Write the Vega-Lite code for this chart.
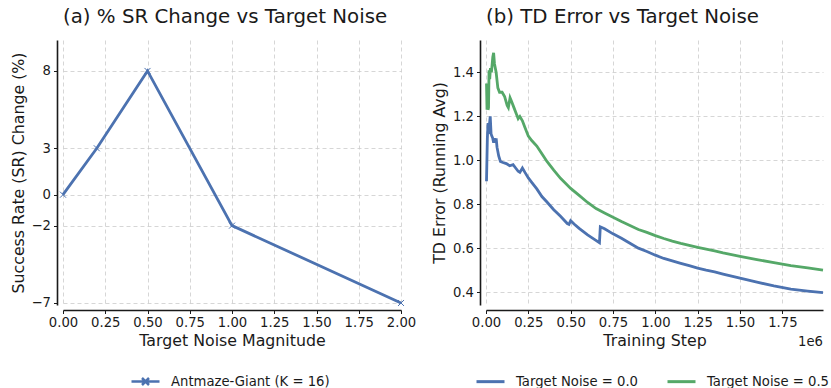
{
  "$schema": "https://vega.github.io/schema/vega-lite/v6.json",
  "background": "white",
  "padding": {"left": 10, "top": 7, "right": 0, "bottom": 0},
  "bounds": "flush",
  "spacing": 85,
  "resolve": {"scale": {"color": "independent"}, "legend": {"color": "independent"}},
  "config": {
    "font": "DejaVu Sans",
    "view": {"stroke": null},
    "axis": {
      "labelFont": "DejaVu Sans", "labelFontSize": 13.2, "labelColor": "#1a1a1a",
      "titleFont": "DejaVu Sans", "titleFontSize": 15.8, "titleFontWeight": "normal", "titleColor": "#1a1a1a",
      "domainColor": "#1a1a1a", "domainWidth": 1.6,
      "tickColor": "#1a1a1a", "tickSize": 3.5, "tickWidth": 1,
      "gridColor": "#cccccc", "gridDash": [4, 3], "gridWidth": 0.8,
      "labelPadding": 3, "titlePadding": 5, "labelFlush": false, "labelOverlap": false
    },
    "title": {"font": "DejaVu Sans", "fontSize": 19.8, "fontWeight": "normal", "color": "#1a1a1a", "anchor": "start", "frame": "group", "offset": 13},
    "legend": {"labelFont": "DejaVu Sans", "labelFontSize": 13.2, "labelColor": "#1a1a1a"}
  },
  "hconcat": [
    {
      "width": 338, "height": 265,
      "title": "(a) % SR Change vs Target Noise",
      "data": {"values": [
        {"noise": 0.0, "sr_change": 0, "series": "Antmaze-Giant (K = 16)"},
        {"noise": 0.2, "sr_change": 3, "series": "Antmaze-Giant (K = 16)"},
        {"noise": 0.5, "sr_change": 8, "series": "Antmaze-Giant (K = 16)"},
        {"noise": 1.0, "sr_change": -2, "series": "Antmaze-Giant (K = 16)"},
        {"noise": 2.0, "sr_change": -7, "series": "Antmaze-Giant (K = 16)"}
      ]},
      "layer": [
        {
          "mark": {"type": "line", "strokeWidth": 2.8},
          "encoding": {
            "x": {"field": "noise", "type": "quantitative", "scale": {"domain": [0, 2], "nice": false, "zero": false},
                  "axis": {"title": "Target Noise Magnitude", "values": [0, 0.25, 0.5, 0.75, 1, 1.25, 1.5, 1.75, 2], "format": ".2f", "offset": 5}},
            "y": {"field": "sr_change", "type": "quantitative", "scale": {"domain": [-7.13, 10], "nice": false, "zero": false},
                  "axis": {"title": "Success Rate (SR) Change (%)", "values": [-7, -2, 0, 3, 8], "format": "d", "offset": 6}},
            "color": {"field": "series", "type": "nominal", "scale": {"range": ["#4C72B0"]},
                      "legend": {"title": null, "orient": "none", "legendX": 67, "legendY": 326,
                                 "symbolType": "M-1,0L1,0M-0.25,-0.25L0.25,0.25M-0.25,0.25L0.25,-0.25",
                                 "symbolSize": 784, "symbolStrokeWidth": 2.5, "labelOffset": 10}}
          }
        },
        {
          "mark": {"type": "point", "shape": "M-1,-1L1,1M-1,1L1,-1", "filled": false, "size": 36, "strokeWidth": 1, "color": "#4C72B0", "opacity": 1},
          "encoding": {
            "x": {"field": "noise", "type": "quantitative", "title": "Target Noise Magnitude"},
            "y": {"field": "sr_change", "type": "quantitative", "title": "Success Rate (SR) Change (%)"}
          }
        }
      ]
    },
    {
      "width": 337, "height": 265,
      "title": "(b) TD Error vs Target Noise",
      "data": {"values": [
        {"step": 3000, "td_error": 0.905, "series": "Target Noise = 0.0"},
        {"step": 8000, "td_error": 1.10, "series": "Target Noise = 0.0"},
        {"step": 12000, "td_error": 1.17, "series": "Target Noise = 0.0"},
        {"step": 16000, "td_error": 1.12, "series": "Target Noise = 0.0"},
        {"step": 20000, "td_error": 1.16, "series": "Target Noise = 0.0"},
        {"step": 25000, "td_error": 1.20, "series": "Target Noise = 0.0"},
        {"step": 30000, "td_error": 1.12, "series": "Target Noise = 0.0"},
        {"step": 35000, "td_error": 1.11, "series": "Target Noise = 0.0"},
        {"step": 40000, "td_error": 1.10, "series": "Target Noise = 0.0"},
        {"step": 45000, "td_error": 1.08, "series": "Target Noise = 0.0"},
        {"step": 50000, "td_error": 1.10, "series": "Target Noise = 0.0"},
        {"step": 55000, "td_error": 1.08, "series": "Target Noise = 0.0"},
        {"step": 60000, "td_error": 1.10, "series": "Target Noise = 0.0"},
        {"step": 65000, "td_error": 1.06, "series": "Target Noise = 0.0"},
        {"step": 75000, "td_error": 1.02, "series": "Target Noise = 0.0"},
        {"step": 85000, "td_error": 0.995, "series": "Target Noise = 0.0"},
        {"step": 100000, "td_error": 0.99, "series": "Target Noise = 0.0"},
        {"step": 120000, "td_error": 0.985, "series": "Target Noise = 0.0"},
        {"step": 140000, "td_error": 0.975, "series": "Target Noise = 0.0"},
        {"step": 160000, "td_error": 0.98, "series": "Target Noise = 0.0"},
        {"step": 175000, "td_error": 0.965, "series": "Target Noise = 0.0"},
        {"step": 190000, "td_error": 0.95, "series": "Target Noise = 0.0"},
        {"step": 200000, "td_error": 0.945, "series": "Target Noise = 0.0"},
        {"step": 215000, "td_error": 0.965, "series": "Target Noise = 0.0"},
        {"step": 230000, "td_error": 0.945, "series": "Target Noise = 0.0"},
        {"step": 250000, "td_error": 0.92, "series": "Target Noise = 0.0"},
        {"step": 270000, "td_error": 0.90, "series": "Target Noise = 0.0"},
        {"step": 300000, "td_error": 0.87, "series": "Target Noise = 0.0"},
        {"step": 330000, "td_error": 0.835, "series": "Target Noise = 0.0"},
        {"step": 360000, "td_error": 0.81, "series": "Target Noise = 0.0"},
        {"step": 400000, "td_error": 0.775, "series": "Target Noise = 0.0"},
        {"step": 440000, "td_error": 0.745, "series": "Target Noise = 0.0"},
        {"step": 480000, "td_error": 0.712, "series": "Target Noise = 0.0"},
        {"step": 490000, "td_error": 0.708, "series": "Target Noise = 0.0"},
        {"step": 500000, "td_error": 0.725, "series": "Target Noise = 0.0"},
        {"step": 520000, "td_error": 0.71, "series": "Target Noise = 0.0"},
        {"step": 550000, "td_error": 0.69, "series": "Target Noise = 0.0"},
        {"step": 600000, "td_error": 0.66, "series": "Target Noise = 0.0"},
        {"step": 640000, "td_error": 0.64, "series": "Target Noise = 0.0"},
        {"step": 670000, "td_error": 0.625, "series": "Target Noise = 0.0"},
        {"step": 675000, "td_error": 0.697, "series": "Target Noise = 0.0"},
        {"step": 700000, "td_error": 0.688, "series": "Target Noise = 0.0"},
        {"step": 750000, "td_error": 0.665, "series": "Target Noise = 0.0"},
        {"step": 800000, "td_error": 0.645, "series": "Target Noise = 0.0"},
        {"step": 850000, "td_error": 0.622, "series": "Target Noise = 0.0"},
        {"step": 900000, "td_error": 0.60, "series": "Target Noise = 0.0"},
        {"step": 950000, "td_error": 0.585, "series": "Target Noise = 0.0"},
        {"step": 1000000, "td_error": 0.568, "series": "Target Noise = 0.0"},
        {"step": 1050000, "td_error": 0.553, "series": "Target Noise = 0.0"},
        {"step": 1100000, "td_error": 0.542, "series": "Target Noise = 0.0"},
        {"step": 1150000, "td_error": 0.531, "series": "Target Noise = 0.0"},
        {"step": 1200000, "td_error": 0.52, "series": "Target Noise = 0.0"},
        {"step": 1250000, "td_error": 0.509, "series": "Target Noise = 0.0"},
        {"step": 1300000, "td_error": 0.50, "series": "Target Noise = 0.0"},
        {"step": 1350000, "td_error": 0.492, "series": "Target Noise = 0.0"},
        {"step": 1400000, "td_error": 0.482, "series": "Target Noise = 0.0"},
        {"step": 1500000, "td_error": 0.463, "series": "Target Noise = 0.0"},
        {"step": 1600000, "td_error": 0.445, "series": "Target Noise = 0.0"},
        {"step": 1700000, "td_error": 0.428, "series": "Target Noise = 0.0"},
        {"step": 1800000, "td_error": 0.413, "series": "Target Noise = 0.0"},
        {"step": 1900000, "td_error": 0.404, "series": "Target Noise = 0.0"},
        {"step": 1990000, "td_error": 0.397, "series": "Target Noise = 0.0"},
        {"step": 3000, "td_error": 1.35, "series": "Target Noise = 0.5"},
        {"step": 6000, "td_error": 1.23, "series": "Target Noise = 0.5"},
        {"step": 9000, "td_error": 1.34, "series": "Target Noise = 0.5"},
        {"step": 12000, "td_error": 1.23, "series": "Target Noise = 0.5"},
        {"step": 15000, "td_error": 1.24, "series": "Target Noise = 0.5"},
        {"step": 18000, "td_error": 1.41, "series": "Target Noise = 0.5"},
        {"step": 22000, "td_error": 1.37, "series": "Target Noise = 0.5"},
        {"step": 26000, "td_error": 1.42, "series": "Target Noise = 0.5"},
        {"step": 32000, "td_error": 1.40, "series": "Target Noise = 0.5"},
        {"step": 40000, "td_error": 1.47, "series": "Target Noise = 0.5"},
        {"step": 45000, "td_error": 1.49, "series": "Target Noise = 0.5"},
        {"step": 50000, "td_error": 1.44, "series": "Target Noise = 0.5"},
        {"step": 60000, "td_error": 1.40, "series": "Target Noise = 0.5"},
        {"step": 70000, "td_error": 1.33, "series": "Target Noise = 0.5"},
        {"step": 80000, "td_error": 1.31, "series": "Target Noise = 0.5"},
        {"step": 95000, "td_error": 1.31, "series": "Target Noise = 0.5"},
        {"step": 110000, "td_error": 1.29, "series": "Target Noise = 0.5"},
        {"step": 125000, "td_error": 1.25, "series": "Target Noise = 0.5"},
        {"step": 132000, "td_error": 1.24, "series": "Target Noise = 0.5"},
        {"step": 142000, "td_error": 1.285, "series": "Target Noise = 0.5"},
        {"step": 150000, "td_error": 1.27, "series": "Target Noise = 0.5"},
        {"step": 165000, "td_error": 1.24, "series": "Target Noise = 0.5"},
        {"step": 180000, "td_error": 1.21, "series": "Target Noise = 0.5"},
        {"step": 190000, "td_error": 1.19, "series": "Target Noise = 0.5"},
        {"step": 200000, "td_error": 1.20, "series": "Target Noise = 0.5"},
        {"step": 215000, "td_error": 1.18, "series": "Target Noise = 0.5"},
        {"step": 230000, "td_error": 1.15, "series": "Target Noise = 0.5"},
        {"step": 250000, "td_error": 1.11, "series": "Target Noise = 0.5"},
        {"step": 270000, "td_error": 1.09, "series": "Target Noise = 0.5"},
        {"step": 300000, "td_error": 1.065, "series": "Target Noise = 0.5"},
        {"step": 330000, "td_error": 1.03, "series": "Target Noise = 0.5"},
        {"step": 360000, "td_error": 0.995, "series": "Target Noise = 0.5"},
        {"step": 400000, "td_error": 0.955, "series": "Target Noise = 0.5"},
        {"step": 440000, "td_error": 0.918, "series": "Target Noise = 0.5"},
        {"step": 500000, "td_error": 0.872, "series": "Target Noise = 0.5"},
        {"step": 550000, "td_error": 0.84, "series": "Target Noise = 0.5"},
        {"step": 600000, "td_error": 0.808, "series": "Target Noise = 0.5"},
        {"step": 650000, "td_error": 0.78, "series": "Target Noise = 0.5"},
        {"step": 700000, "td_error": 0.76, "series": "Target Noise = 0.5"},
        {"step": 750000, "td_error": 0.741, "series": "Target Noise = 0.5"},
        {"step": 800000, "td_error": 0.721, "series": "Target Noise = 0.5"},
        {"step": 850000, "td_error": 0.703, "series": "Target Noise = 0.5"},
        {"step": 900000, "td_error": 0.685, "series": "Target Noise = 0.5"},
        {"step": 950000, "td_error": 0.672, "series": "Target Noise = 0.5"},
        {"step": 1000000, "td_error": 0.657, "series": "Target Noise = 0.5"},
        {"step": 1050000, "td_error": 0.644, "series": "Target Noise = 0.5"},
        {"step": 1100000, "td_error": 0.632, "series": "Target Noise = 0.5"},
        {"step": 1150000, "td_error": 0.622, "series": "Target Noise = 0.5"},
        {"step": 1200000, "td_error": 0.613, "series": "Target Noise = 0.5"},
        {"step": 1250000, "td_error": 0.603, "series": "Target Noise = 0.5"},
        {"step": 1300000, "td_error": 0.595, "series": "Target Noise = 0.5"},
        {"step": 1350000, "td_error": 0.587, "series": "Target Noise = 0.5"},
        {"step": 1400000, "td_error": 0.578, "series": "Target Noise = 0.5"},
        {"step": 1500000, "td_error": 0.563, "series": "Target Noise = 0.5"},
        {"step": 1600000, "td_error": 0.548, "series": "Target Noise = 0.5"},
        {"step": 1700000, "td_error": 0.534, "series": "Target Noise = 0.5"},
        {"step": 1800000, "td_error": 0.52, "series": "Target Noise = 0.5"},
        {"step": 1900000, "td_error": 0.51, "series": "Target Noise = 0.5"},
        {"step": 1990000, "td_error": 0.50, "series": "Target Noise = 0.5"}
      ]},
      "layer": [
        {
          "mark": {"type": "line", "strokeWidth": 2.8},
          "encoding": {
            "x": {"field": "step", "type": "quantitative", "scale": {"domain": [0, 1990000], "nice": false, "zero": false},
                  "axis": {"title": "Training Step", "values": [0, 250000, 500000, 750000, 1000000, 1250000, 1500000, 1750000],
                           "labelExpr": "format(datum.value / 1000000, '.2f')", "offset": 5}},
            "y": {"field": "td_error", "type": "quantitative", "scale": {"domain": [0.341, 1.548], "nice": false, "zero": false},
                  "axis": {"title": "TD Error (Running Avg)", "values": [0.4, 0.6, 0.8, 1.0, 1.2, 1.4], "format": ".1f", "offset": 6}},
            "color": {"field": "series", "type": "nominal",
                      "scale": {"domain": ["Target Noise = 0.0", "Target Noise = 0.5"], "range": ["#4C72B0", "#55A868"]},
                      "legend": {"title": null, "orient": "none", "direction": "horizontal", "legendX": -11, "legendY": 326,
                                 "symbolType": "stroke", "symbolSize": 784, "symbolStrokeWidth": 3, "labelOffset": 10, "columnPadding": 23}}
          }
        },
        {
          "data": {"values": [{"label": "1e6", "step": 1990000, "td_error": 0.341}]},
          "mark": {"type": "text", "align": "right", "baseline": "top", "dy": 31, "fontSize": 13.2, "font": "DejaVu Sans", "color": "#1a1a1a"},
          "encoding": {
            "x": {"field": "step", "type": "quantitative", "title": "Training Step"},
            "y": {"field": "td_error", "type": "quantitative", "title": "TD Error (Running Avg)"},
            "text": {"field": "label"}
          }
        }
      ]
    }
  ]
}
